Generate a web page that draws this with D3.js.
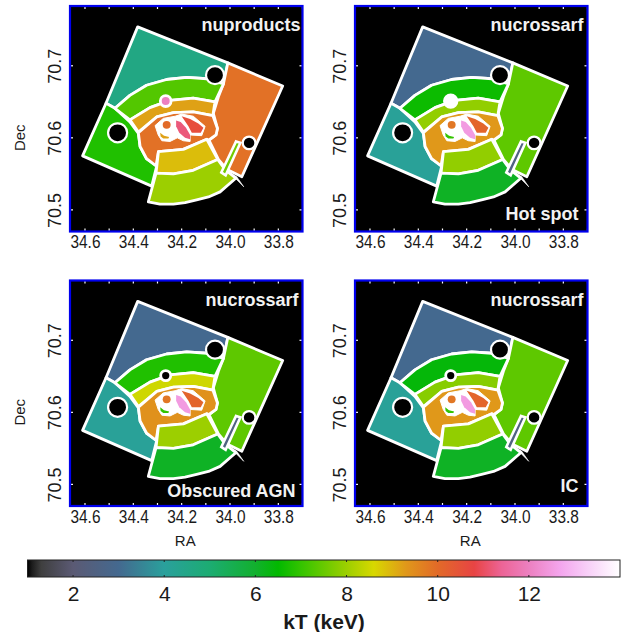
<!DOCTYPE html>
<html><head><meta charset="utf-8">
<script src="https://cdn.jsdelivr.net/npm/d3@7"></script>
<style>html,body{margin:0;padding:0;background:#fff}svg{display:block}text{font-family:"Liberation Sans",Arial,sans-serif}</style>
</head><body><svg id="c" width="629" height="632"></svg>
<script>
// Colour map: kT (keV) -> colour
const cmapKeV = [1,1.1,1.3,2,3,4,5,6,6.5,7,8,8.6,9.3,10,10.8,11.4,12,12.7,13.3,14];
const cmapCol = ["#000000","#1c1c1c","#3f3f3f","#5b5a74","#44698f","#2aa09c","#1cac72","#12b02e","#02b900","#34c400","#9ccf00","#d8d800","#e0981a","#e26a28","#e84444","#ec6496","#ec80c0","#f4a6ee","#f8d0f8","#ffffff"];
// Region outlines, [RA, Dec]
const topWedge = [[34.382,70.754],[34.009,70.704],[34.027,70.675],[34.096,70.682],[34.179,70.684],[34.262,70.681],[34.345,70.673],[34.414,70.659],[34.476,70.641],[34.513,70.648]];
const rightWedge = [[34.009,70.704],[33.782,70.672],[33.951,70.546],[34.012,70.556],[34.048,70.570],[34.087,70.597],[34.058,70.604],[34.052,70.613],[34.069,70.634],[34.048,70.657],[34.027,70.675]];
const leftWedge = [[34.513,70.648],[34.476,70.641],[34.414,70.622],[34.379,70.606],[34.372,70.588],[34.345,70.571],[34.303,70.561],[34.324,70.533],[34.610,70.575]];
const upperOuter = [[34.476,70.641],[34.414,70.659],[34.345,70.673],[34.262,70.681],[34.179,70.684],[34.096,70.682],[34.027,70.675],[34.062,70.650],[34.152,70.655],[34.248,70.652],[34.331,70.642],[34.414,70.625]];
const upperInner = [[34.414,70.625],[34.331,70.642],[34.248,70.652],[34.152,70.655],[34.062,70.650],[34.071,70.631],[34.152,70.636],[34.234,70.635],[34.303,70.629],[34.379,70.608]];
const core = [[34.379,70.607],[34.303,70.629],[34.234,70.635],[34.152,70.636],[34.071,70.631],[34.052,70.613],[34.058,70.604],[34.087,70.597],[34.096,70.598],[34.193,70.584],[34.296,70.581],[34.306,70.561],[34.345,70.571],[34.372,70.588]];
const lowerInner = [[34.296,70.581],[34.193,70.584],[34.096,70.598],[34.051,70.570],[34.152,70.555],[34.234,70.550],[34.306,70.551]];
const lowerOuter = [[34.306,70.551],[34.234,70.550],[34.152,70.555],[34.051,70.570],[34.020,70.556],[33.976,70.544],[34.041,70.525],[34.089,70.518],[34.138,70.514],[34.186,70.510],[34.234,70.508],[34.290,70.508],[34.338,70.511]];
const thinBox = [[33.975,70.595],[33.957,70.593],[34.018,70.548],[34.036,70.552]];
const spike = [[34.002,70.552],[33.972,70.546],[33.943,70.532]];
const blob = [[34.310,70.617],[34.276,70.627],[34.227,70.630],[34.200,70.633],[34.152,70.630],[34.103,70.616],[34.117,70.603],[34.165,70.604],[34.165,70.595],[34.193,70.596],[34.218,70.600],[34.248,70.595],[34.282,70.596],[34.297,70.604]];
const ellipseA = [[34.223,70.624],[34.204,70.622],[34.182,70.614],[34.165,70.604],[34.165,70.598],[34.186,70.600],[34.210,70.607],[34.223,70.616]];
const ellipseB = [[34.200,70.630],[34.165,70.626],[34.131,70.620],[34.110,70.614],[34.121,70.607],[34.158,70.607],[34.172,70.616]];
const crescent = [[34.289,70.607],[34.273,70.603],[34.252,70.601],[34.255,70.599],[34.276,70.599],[34.287,70.602]];
// Excluded sources: [RA, Dec, radius in deg of Dec]
const holeA = [34.062,70.687,0.0125];
const holeB = [34.465,70.607,0.0132];
const holeC = [33.921,70.593,0.0088];
const spotBig = [34.266,70.651,0.0083];
const spotCore = [34.262,70.618,0.0055];
// Temperatures per panel, keV
const kTTop    = [4.6,3.0,3.0,3.0];
const kTRight  = [9.9,7.4,7.4,7.4];
const kTLeft   = [6.8,4.1,4.1,4.1];
const kTUpperOuter = [7.3,6.6,6.8,6.4];
const kTUpperInner = [9.2,7.9,8.5,7.8];
const kTCore   = [9.9,9.3,9.4,9.3];
const kTLowerInner = [8.9,7.9,8.0,7.9];
const kTLowerOuter = [8.0,6.1,6.1,6.1];
const kTBox    = [7.6,2.5,2.5,2.5];
const kTEllipseA = [11.2,12.5,12.5,12.5];
const kTEllipseB = [10.6,10.1,10.1,10.1];
const kTCrescent = [9.2,7.0,7.0,7.0];
const kTSpotCore = [10.0,9.8,9.8,9.8];
const kTSpotBig = [12.0,14,1,1];
const spotScale = [0.9,1.05,0.84,0.84];
const panelTop = ["nuproducts","nucrossarf","nucrossarf","nucrossarf"];
const panelBottom = ["","Hot spot","Obscured AGN","IC"];
const raTicks = [34.6,34.4,34.2,34.0,33.8];
const decTicks = [70.5,70.6,70.7];
const cbTicks = [2,4,6,8,10,12];

const svg = d3.select("#c");
const color = d3.scaleLinear().domain(cmapKeV).range(cmapCol);
const panelX = [70,355,70,355], panelY = [6,6,280.5,280.5];
const W = 232.5, H = 225.5;

function panel(i){
  const x = d3.scaleLinear().domain([34.662,33.7]).range([0,W]);
  const y = d3.scaleLinear().domain([70.47,70.783]).range([H,0]);
  const g = svg.append("g").attr("transform",`translate(${panelX[i]},${panelY[i]})`);
  const line = d3.line().x(d=>x(d[0])).y(d=>y(d[1])).curve(d3.curveLinearClosed);
  g.append("rect").attr("width",W).attr("height",H).attr("fill","#000");
  const regions = [[topWedge,kTTop],[rightWedge,kTRight],[leftWedge,kTLeft],[upperOuter,kTUpperOuter],[upperInner,kTUpperInner],[core,kTCore],[lowerInner,kTLowerInner],[lowerOuter,kTLowerOuter]];
  regions.forEach(([p,v])=>g.append("path").attr("d",line(p)).attr("fill",color(v[i])).attr("stroke","#fff").attr("stroke-width",2.8).attr("stroke-linejoin","round"));
  g.append("path").attr("d",line(spike)).attr("fill","#fff").attr("stroke","#fff").attr("stroke-width",0.6);
  g.append("path").attr("d",line(thinBox)).attr("fill",color(kTBox[i])).attr("stroke","#fff").attr("stroke-width",2.6);
  g.append("path").attr("d",line(blob)).attr("fill","#fff").attr("stroke","#fff").attr("stroke-width",1).attr("stroke-linejoin","round");
  [[ellipseA,kTEllipseA],[ellipseB,kTEllipseB],[crescent,kTCrescent]].forEach(([p,v])=>g.append("path").attr("d",line(p)).attr("fill",color(v[i])));
  const rad = r => y(70.6)-y(70.6+r);
  g.append("circle").attr("cx",x(spotCore[0])).attr("cy",y(spotCore[1])).attr("r",rad(spotCore[2])).attr("fill",color(kTSpotCore[i]));
  [holeA,holeB,holeC].forEach(c=>g.append("circle").attr("cx",x(c[0])).attr("cy",y(c[1])).attr("r",rad(c[2])).attr("fill","#000").attr("stroke","#fff").attr("stroke-width",2.2));
  g.append("circle").attr("cx",x(spotBig[0])).attr("cy",y(spotBig[1])).attr("r",rad(spotBig[2])*spotScale[i]).attr("fill",color(kTSpotBig[i])).attr("stroke","#fff").attr("stroke-width",2.8);

  // tick dots inside the frame
  const minorRa = d3.range(34.6,33.69,-0.1), gt = g.append("g").attr("stroke","#fff").attr("stroke-width",1.2);
  minorRa.forEach(r=>{gt.append("line").attr("x1",x(r)).attr("x2",x(r)).attr("y1",H-3).attr("y2",H);gt.append("line").attr("x1",x(r)).attr("x2",x(r)).attr("y1",0).attr("y2",3);});
  decTicks.forEach(d=>{gt.append("line").attr("x1",0).attr("x2",3).attr("y1",y(d)).attr("y2",y(d));gt.append("line").attr("x1",W-3).attr("x2",W).attr("y1",y(d)).attr("y2",y(d));});

  g.append("rect").attr("width",W).attr("height",H).attr("fill","none").attr("stroke","#0000ee").attr("stroke-width",2.2);

  const ax = g.append("g").attr("transform",`translate(0,${H})`).call(d3.axisBottom(x).tickValues(raTicks).tickFormat(d3.format(".1f")).tickSize(0).tickPadding(4));
  ax.select(".domain").remove();
  ax.selectAll("text").attr("font-size",18).attr("fill","#1a1a1a").style("font-family","'Liberation Sans'").attr("textLength",30).attr("lengthAdjust","spacingAndGlyphs");
  const ay = g.append("g").call(d3.axisLeft(y).tickValues(decTicks).tickFormat(d3.format(".1f")).tickSize(0));
  ay.select(".domain").remove();
  ay.selectAll("text").attr("font-size",18).attr("fill","#1a1a1a").style("font-family","'Liberation Sans'")
    .attr("text-anchor","middle").attr("x",0).attr("dy",0)
    .attr("transform","translate(-9,0) rotate(-90)");

  const label=(t,xp,yp)=>g.append("text").text(t).attr("x",xp).attr("y",yp).attr("text-anchor","end").attr("fill","#f2f2f2").attr("font-weight","bold").attr("font-size",18);
  label(panelTop[i], i===0?W-2:(W-4), 25);
  if(panelBottom[i]) label(panelBottom[i], i===2?W-7:W-9, i===1?214:(i===2?216.5:211.5));
  if(i%2===0) g.append("text").text("Dec").attr("transform",`translate(-45,${H/2+19}) rotate(-90)`).attr("text-anchor","middle").attr("font-size",15).attr("fill","#1a1a1a");
  if(i>=2) g.append("text").text("RA").attr("x",W/2-1).attr("y",H+40).attr("text-anchor","middle").attr("font-size",15).attr("fill","#1a1a1a");
}
[0,1,2,3].forEach(panel);

// colour bar
const cb = d3.scaleLinear().domain([1,14]).range([27.5,620]);
const grad = svg.append("defs").append("linearGradient").attr("id","cbg");
cmapKeV.forEach((k,i)=>grad.append("stop").attr("offset",(k-1)/13).attr("stop-color",cmapCol[i]));
const cbY=560, cbH=17;
svg.append("rect").attr("x",cb(1)).attr("y",cbY).attr("width",cb(14)-cb(1)).attr("height",cbH).attr("fill","url(#cbg)").attr("stroke","#222").attr("stroke-width",1);
const axc = svg.append("g").attr("transform",`translate(0,${cbY+cbH})`).call(d3.axisBottom(cb).tickValues(cbTicks).tickSize(0).tickPadding(9));
axc.select(".domain").remove();
axc.selectAll("text").attr("font-size",21).attr("fill","#1a1a1a").style("font-family","'Liberation Sans'");
cbTicks.forEach(t=>{svg.append("line").attr("x1",cb(t)).attr("x2",cb(t)).attr("y1",cbY).attr("y2",cbY+2).attr("stroke","#222");svg.append("line").attr("x1",cb(t)).attr("x2",cb(t)).attr("y1",cbY+cbH-2).attr("y2",cbY+cbH).attr("stroke","#222");});
svg.append("text").text("kT (keV)").attr("x",324).attr("y",629).attr("text-anchor","middle").attr("font-weight","bold").attr("font-size",21).attr("fill","#1a1a1a");
</script></body></html>
